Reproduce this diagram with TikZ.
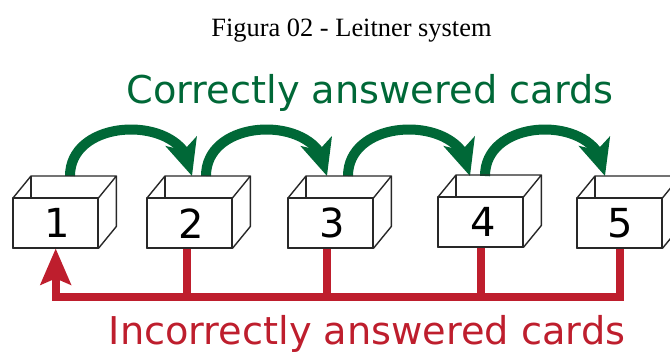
\documentclass[tikz,border=0pt]{standalone}
\usepackage{fontspec}
\setmainfont{Liberation Serif}
\newfontfamily\labelfont{DejaVu Sans}
\usetikzlibrary{arrows.meta,bending}

\definecolor{okgreen}{RGB}{0,104,55}
\definecolor{badred}{RGB}{190,30,45}
\definecolor{boxline}{RGB}{40,40,40}

\tikzset{
  cardbox/.style={draw=boxline, line width=1.4pt, fill=white, inner sep=0pt,
    minimum width=84pt, minimum height=49pt, anchor=north west,
    font=\labelfont\fontsize{40}{40}\selectfont},
  boxedge/.style={draw=boxline, line width=1.4pt, line join=round},
  promote/.style={draw=okgreen, line width=10pt,
    -{Stealth[length=36pt, width=32pt, inset=9pt, flex]}},
  demote/.style={draw=badred, line width=8pt, line join=miter},
  demotehead/.style={-{Stealth[length=36pt, width=30pt, inset=6pt]}},
  caption/.style={anchor=base, font=\labelfont\fontsize{38.3}{44}\selectfont},
}

% open 3-D box: front face is the node, top and right faces drawn from its anchors
\newcommand{\openbox}[1]{%
  \draw[boxedge] (#1.north west) -- ++(18,-22) -- ([shift={(18,-22)}]#1.north east)
    -- (#1.north east);
  \draw[boxedge] (#1.north east) ++(18,-22) -- ([shift={(18,-22)}]#1.south east)
    -- (#1.south east);
  \draw[boxedge] ([shift={(18,-22)}]#1.north west) -- ([xshift=18]#1.north west);
}

\begin{document}
\begin{tikzpicture}[x=1pt, y=-1pt]
  \useasboundingbox (0,0) rectangle (670,354);

  % title
  \node[anchor=base, font=\fontsize{26.4}{30}\selectfont] (title) at (351.5,36)
    {Figura 02 - Leitner system};

  % the five boxes
  \node[cardbox] (b1) at (13,198) {\hspace*{3pt}1};
  \node[cardbox] (b2) at (147,198) {\hspace*{3pt}2};
  \node[cardbox] (b3) at (288,198) {\hspace*{3pt}3};
  \node[cardbox] (b4) at (438,197) {\hspace*{5pt}4};
  \node[cardbox] (b5) at (577,198) {\hspace*{2pt}5};

  % correct answers: one box forward
  \draw[promote] ([shift={(57,-22)}]b1.north west)
    .. controls +(0,-62) and +(0,-62) .. ([shift={(45,-22)}]b2.north west);
  \draw[promote] ([shift={(59,-22)}]b2.north west)
    .. controls +(0,-62) and +(0,-62) .. ([shift={(39,-22)}]b3.north west);
  \draw[promote] ([shift={(60,-22)}]b3.north west)
    .. controls +(0,-62) and +(0,-62) .. ([shift={(32,-21)}]b4.north west);
  \draw[promote] ([shift={(47,-21)}]b4.north west)
    .. controls +(0,-62) and +(0,-62) .. ([shift={(28,-22)}]b5.north west);

  % incorrect answers: back to box 1
  \coordinate (bus) at (0,297);
  \draw[demote, demotehead] (b5.south) -- (b5.south |- bus) -| (b1.south);
  \draw[demote] ([xshift=-3]b2.south) -- ([xshift=-3]b2.south |- bus);
  \draw[demote] ([xshift=-4]b3.south) -- ([xshift=-4]b3.south |- bus);
  \draw[demote] (b4.south) -- (b4.south |- bus);

  % box outlines on top
  \foreach \b in {b1,b2,b3,b4,b5} {
    \draw[boxedge] (\b.north west) rectangle (\b.south east);
    \openbox{\b}
  }

  % captions
  \node[caption, text=okgreen] (good) at (370,103) {Correctly answered cards};
  \node[caption, text=badred] (bad) at (367,344) {Incorrectly answered cards};
\end{tikzpicture}
\end{document}
